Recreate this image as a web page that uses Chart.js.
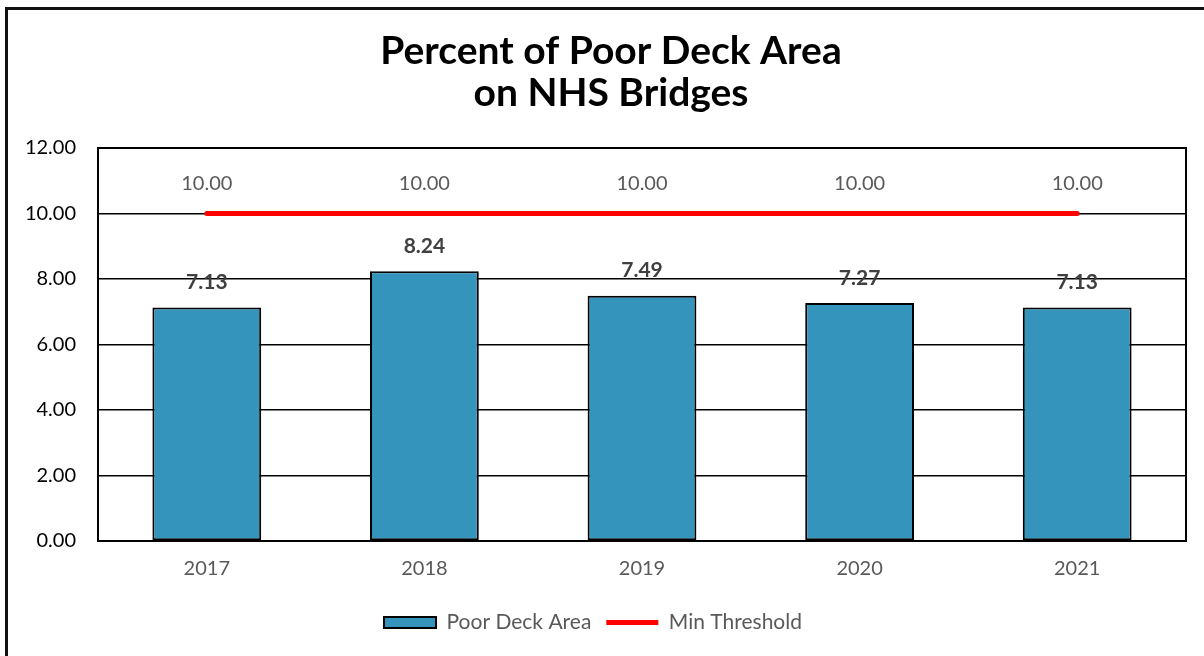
<!DOCTYPE html>
<html>
<head>
<meta charset="utf-8">
<script src="https://cdn.jsdelivr.net/npm/chart.js@4"></script>
<style>
  html, body { margin: 0; padding: 0; background: #fff; overflow: hidden; }
  #frame {
    position: absolute; left: 5px; top: 7px; width: 1400px; height: 900px;
    border-left: 3px solid #111; border-top: 3px solid #111;
  }
  #wrap { position: absolute; left: 0; top: 0; width: 1204px; height: 656px; }
</style>
</head>
<body>
<div id="frame"></div>
<div id="wrap"><canvas id="chart-deck" width="1204" height="656"></canvas></div>
<script>
  // Pourcentage de surface de tablier en mauvais état (ponts NHS)
  var titleLines = ['Percent of Poor Deck Area', 'on NHS Bridges'];
  var years = ['2017', '2018', '2019', '2020', '2021'];
  var poorDeck = [7.13, 8.24, 7.49, 7.27, 7.13];
  var minThreshold = [10.0, 10.0, 10.0, 10.0, 10.0];
  var yTicks = [0, 2, 4, 6, 8, 10, 12];

  var FONT = 'Lato, "Open Sans", sans-serif';

  // titre sur deux lignes, légèrement décalé à droite du centre du canvas
  var headerTitle = {
    id: 'headerTitle',
    afterDraw: function (chart) {
      var c = chart.ctx;
      c.save();
      c.font = 'bold 39px ' + FONT;
      c.fillStyle = '#000';
      c.textAlign = 'center';
      c.textBaseline = 'alphabetic';
      var cx = chart.width / 2 + 9;
      titleLines.forEach(function (t, i) {
        c.fillText(t, cx, 64 + i * 42);
      });
      c.restore();
    }
  };

  // cadre complet autour de la zone de tracé
  var plotBox = {
    id: 'plotBox',
    afterDraw: function (chart) {
      var a = chart.chartArea;
      var c = chart.ctx;
      c.save();
      c.strokeStyle = '#000';
      c.lineWidth = 2;
      c.strokeRect(a.left, a.top, a.right - a.left, a.bottom - a.top);
      c.restore();
    }
  };

  // étiquettes de valeurs au-dessus des barres et de la ligne
  var valueLabels = {
    id: 'valueLabels',
    afterDatasetsDraw: function (chart) {
      var c = chart.ctx;
      c.save();
      c.textAlign = 'center';
      c.textBaseline = 'middle';
      var barMeta = chart.getDatasetMeta(0);
      c.font = 'bold 21px ' + FONT;
      c.fillStyle = '#404040';
      barMeta.data.forEach(function (el, i) {
        c.fillText(poorDeck[i].toFixed(2), el.x, el.y - 25);
      });
      var lineMeta = chart.getDatasetMeta(1);
      c.font = '20px ' + FONT;
      c.fillStyle = '#595959';
      lineMeta.data.forEach(function (el, i) {
        c.fillText(minThreshold[i].toFixed(2), el.x, el.y - 30);
      });
      c.restore();
    }
  };

  new Chart(document.getElementById('chart-deck'), {
    type: 'bar',
    data: {
      labels: years,
      datasets: [
        {
          label: 'Poor Deck Area',
          data: poorDeck,
          backgroundColor: '#3594BB',
          borderColor: '#000',
          borderWidth: 2,
          borderSkipped: false,
          barPercentage: 0.5,
          categoryPercentage: 1,
          pointStyle: 'rect',
          order: 2
        },
        {
          type: 'line',
          label: 'Min Threshold',
          data: minThreshold,
          borderColor: '#FF0000',
          backgroundColor: '#FF0000',
          borderWidth: 5,
          borderCapStyle: 'round',
          pointRadius: 0,
          pointStyle: 'line',
          order: 1
        }
      ]
    },
    options: {
      responsive: false,
      animation: false,
      layout: { padding: { top: 148, left: 0, right: 18, bottom: 13 } },
      plugins: {
        title: { display: false },
        legend: {
          position: 'bottom',
          labels: {
            usePointStyle: true,
            pointStyleWidth: 52,
            boxHeight: 11,
            color: '#595959',
            padding: 15,
            font: { family: FONT, size: 21 },
            sort: function (a, b) { return a.datasetIndex - b.datasetIndex; }
          }
        },
        tooltip: { enabled: false }
      },
      scales: {
        x: {
          grid: { display: false, drawTicks: false },
          border: { display: false },
          ticks: { color: '#595959', padding: 16, font: { family: FONT, size: 20 } }
        },
        y: {
          min: 0,
          max: 12,
          afterFit: function (s) { s.width = 98; },
          afterBuildTicks: function (s) {
            s.ticks = yTicks.map(function (v) { return { value: v }; });
          },
          grid: { color: '#000', lineWidth: 1.5, drawTicks: false },
          border: { display: false },
          ticks: {
            color: '#000',
            padding: 22,
            font: { family: FONT, size: 20 },
            callback: function (v) { return Number(v).toFixed(2); }
          }
        }
      }
    },
    plugins: [headerTitle, plotBox, valueLabels]
  });
</script>
</body>
</html>
